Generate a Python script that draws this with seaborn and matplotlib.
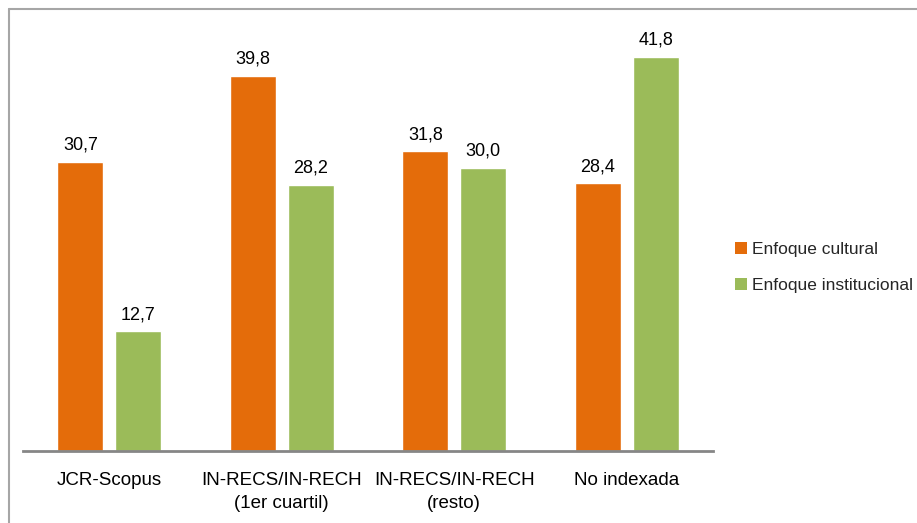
import matplotlib
matplotlib.use("Agg")
import matplotlib.pyplot as plt
import seaborn as sns
import pandas as pd
from matplotlib.lines import Line2D
from matplotlib.patches import Patch

categories = ["JCR-Scopus", "IN-RECS/IN-RECH\n(1er cuartil)", "IN-RECS/IN-RECH\n(resto)", "No indexada"]
series_names = ["Enfoque cultural", "Enfoque institucional"]
cultural = [30.7, 39.8, 31.8, 28.4]
institucional = [12.7, 28.2, 30.0, 41.8]
colors = ["#E46C0A", "#9BBB59"]

df = pd.DataFrame({
    "cat": categories * 2,
    "serie": [series_names[0]] * 4 + [series_names[1]] * 4,
    "val": cultural + institucional,
})

sns.set_theme(style="white")
plt.rcParams['font.family'] = ['Liberation Sans Narrow', 'Liberation Sans', 'DejaVu Sans']

fig = plt.figure(figsize=(9.17, 5.23), dpi=100)
ax = fig.add_axes([23/917, 72/523, 690/917, (451-27)/523])

sns.barplot(data=df, x="cat", y="val", hue="serie", palette=colors, width=0.67, gap=0.2,
            ax=ax, legend=False, saturation=1)

for cont in ax.containers:
    ax.bar_label(cont, labels=[f"{v:.1f}".replace(".", ",") for v in cont.datavalues],
                 padding=6, fontsize=13, color="#000000")

ax.set_xlim(-0.5, 3.5)
ax.set_ylim(0, 45)
ax.set_xlabel("")
ax.set_ylabel("")
ax.set_yticks([])
for s in ["top", "right", "left"]:
    ax.spines[s].set_visible(False)
ax.spines["bottom"].set_color("#868686")
ax.spines["bottom"].set_linewidth(2)
ax.tick_params(axis="x", length=0, pad=15, labelsize=13.5, labelcolor="#000000")
for t in ax.get_xticklabels():
    t.set_linespacing(1.45)
ax.set_facecolor("none")

handles = [Patch(facecolor=c, edgecolor="none") for c in colors]
fig.legend(handles, series_names, loc="upper left", bbox_to_anchor=(728/917, 1 - 235/523),
           frameon=False, fontsize=12.5, handlelength=0.7, handleheight=0.7,
           handletextpad=0.3, labelspacing=1.2, borderaxespad=0)

# outer frame
fig.add_artist(Line2D([8.5/917, 8.5/917], [0, 1 - 8.5/523], transform=fig.transFigure, color="#A6A6A6", lw=1.5))
fig.add_artist(Line2D([8.5/917, 1], [1 - 8.5/523, 1 - 8.5/523], transform=fig.transFigure, color="#A6A6A6", lw=1.5))

fig.savefig("out.png", dpi=100)
